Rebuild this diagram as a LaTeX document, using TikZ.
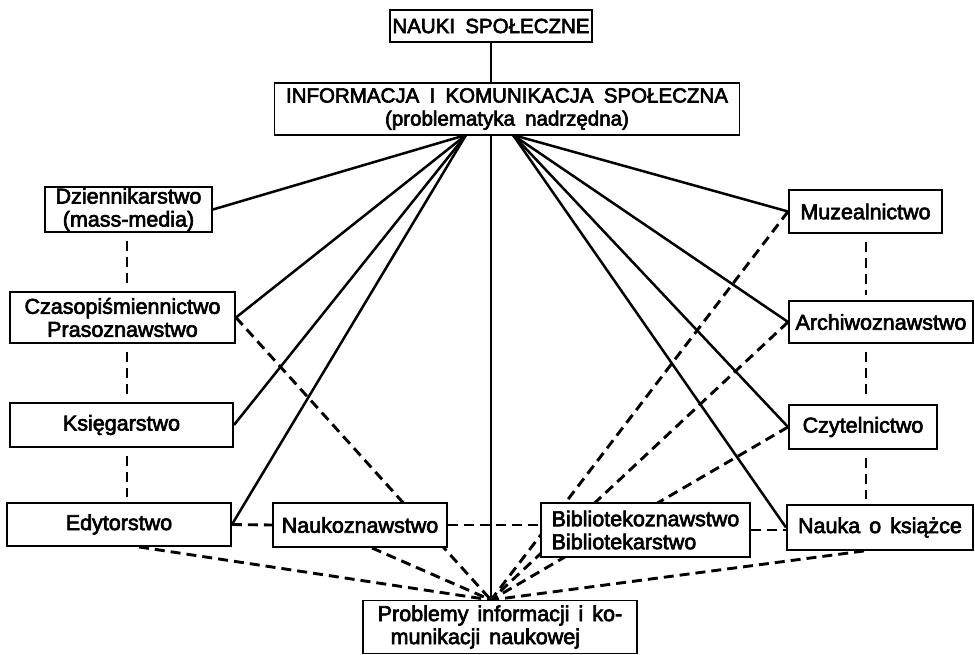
\documentclass[tikz,border=0pt]{standalone}
\usepackage{fontspec}
\setmainfont{Liberation Sans}[FakeBold=3]
\usetikzlibrary{backgrounds,calc}
\newcommand\lblfont{\fontsize{21.5}{23}\selectfont\spaceskip=0.42em plus 0.1em\relax}
\newcommand\capsfont{\fontsize{20.5}{23}\selectfont\spaceskip=0.5em plus 0.1em\relax}
\begin{document}
\begin{tikzpicture}[x=1pt,y=-1pt,
  box/.style={draw, line width=1.9pt, fill=white, inner sep=0pt, font=\lblfont},
  capsbox/.style={box, font=\capsfont},
  solidlink/.style={line width=2.5pt},
  dashlink/.style={line width=2.9pt, dash pattern=on 10pt off 6pt},
]
\useasboundingbox (0,0) rectangle (975,654);

% nodes
\node[capsbox, minimum width=202pt, minimum height=32pt] (nauki) at (491,26) {NAUKI SPOŁECZNE};
\node[capsbox, minimum width=465pt, minimum height=52pt, align=center] (info) at (507,109)
  {INFORMACJA I KOMUNIKACJA SPOŁECZNA\\(problematyka nadrzędna)};
\node[box, minimum width=167pt, minimum height=45pt, align=center] (dzien) at (128.5,209.5) {Dziennikarstwo\\(mass-media)};
\node[box, minimum width=225pt, minimum height=51pt, align=center] (czas) at (122.5,317.5) {Czasopiśmiennictwo\\Prasoznawstwo};
\node[box, minimum width=223pt, minimum height=44pt] (ksieg) at (121.5,425) {Księgarstwo\hspace{12pt}};
\node[box, minimum width=224pt, minimum height=43pt] (edyt) at (119,524.5) {Edytorstwo\hspace{18pt}};
\node[box, minimum width=174pt, minimum height=44pt] (nauk) at (360,525) {Naukoznawstwo};
\node[box, minimum width=209pt, minimum height=54pt, align=left] (bibl) at (645.5,530) {Bibliotekoznawstwo\\Bibliotekarstwo};
\node[box, minimum width=186pt, minimum height=45pt] (ksiaz) at (880,527.5) {Nauka o książce};
\node[box, minimum width=153pt, minimum height=43pt] (muz) at (865.5,211.5) {Muzealnictwo};
\node[box, minimum width=184pt, minimum height=42pt] (arch) at (881,322) {Archiwoznawstwo};
\node[box, minimum width=148pt, minimum height=44pt] (czyt) at (863,427) {Czytelnictwo};
\node[box, minimum width=274pt, minimum height=53pt, align=left] (prob) at (500,627)
  {Problemy informacji i ko-\\\hspace{0.6em}munikacji naukowej};

% fan points and convergence point
\coordinate (lf) at (466,135);
\coordinate (rf) at (513,135);
\coordinate (conv) at (491,600);

\begin{scope}[on background layer]
  % top
  \draw[solidlink] (nauki.south -| conv) -- (info.north -| conv);
  \draw[solidlink] (info.south -| conv) -- (conv);
  % left fan
  \draw[solidlink] (lf) -- (dzien.east);
  \draw[solidlink] (lf) -- (czas.east);
  \draw[solidlink] (lf) -- (ksieg.east);
  \draw[solidlink] (lf) -- (edyt.east);
  % right fan
  \draw[solidlink] (rf) -- (muz.west);
  \draw[solidlink] (rf) -- (arch.west);
  \draw[solidlink] (rf) -- (czyt.west);
  \draw[solidlink] (rf) -- (ksiaz.west);
  % vertical dashed chains
  \draw[dashlink, shorten <=8pt, shorten >=5pt] (dzien.south -| 127,0) -- (czas.north -| 127,0);
  \draw[dashlink, shorten <=8pt, shorten >=5pt] (czas.south -| 127,0) -- (ksieg.north -| 127,0);
  \draw[dashlink, shorten <=8pt, shorten >=5pt] (ksieg.south -| 127,0) -- (edyt.north -| 127,0);
  \draw[dashlink, shorten <=8pt, shorten >=5pt] (muz.south -| 866,0) -- (arch.north -| 866,0);
  \draw[dashlink, shorten <=8pt, shorten >=5pt] (arch.south -| 866,0) -- (czyt.north -| 866,0);
  \draw[dashlink, shorten <=8pt, shorten >=5pt] (czyt.south -| 866,0) -- (ksiaz.north -| 866,0);
  % horizontal dashed row
  \draw[dashlink] (edyt.east) -- (nauk.west);
  \draw[dashlink] (nauk.east) -- (nauk.east -| bibl.west);
  \draw[dashlink] (bibl.east) -- (bibl.east -| ksiaz.west);
  % dashed links to Problemy
  \draw[dashlink] (czas.east) -- (conv);
  \draw[dashlink] (muz.west) -- (conv);
  \draw[dashlink] (arch.west) -- (conv);
  \draw[dashlink] (czyt.west) -- (conv);
  \draw[dashlink] ($(edyt.south)+(20,0)$) -- (conv);
  \draw[dashlink] ($(nauk.south)+(12,0)$) -- (conv);
  \draw[dashlink] ($(ksiaz.south)+(-16,0)$) -- (conv);
\end{scope}
\end{tikzpicture}
\end{document}
